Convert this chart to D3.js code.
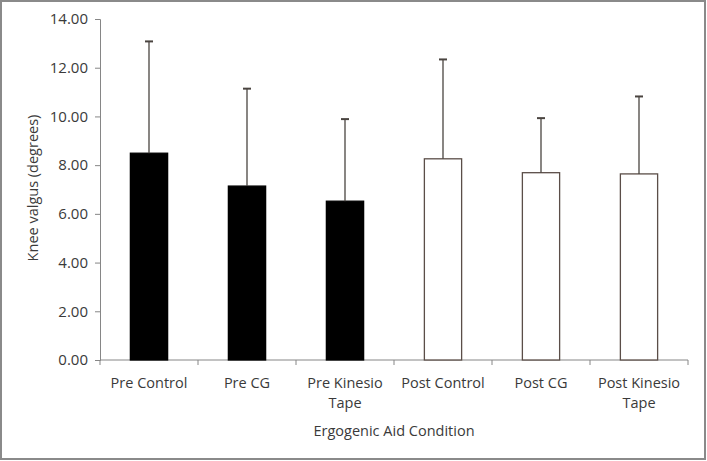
<!DOCTYPE html>
<html><head><meta charset="utf-8">
<script src="https://cdn.jsdelivr.net/npm/d3@7/dist/d3.min.js"></script>
<style>
body{margin:0;background:#fff;}
text{font-family:"Open Sans","Noto Sans",sans-serif;fill:#3a3a3a;}
</style></head>
<body><svg id="c" width="707" height="461"></svg>
<script>
const categories = [["Pre Control"],["Pre CG"],["Pre Kinesio","Tape"],["Post Control"],["Post CG"],["Post Kinesio","Tape"]];
const keys = ["Pre Control","Pre CG","Pre Kinesio Tape","Post Control","Post CG","Post Kinesio Tape"];
const means = [8.49, 7.14, 6.52, 8.26, 7.69, 7.64];
const sds = [4.59, 4.00, 3.37, 4.08, 2.24, 3.18];
const fills = ["#000","#000","#000","#fff","#fff","#fff"];
const yTicks = [0,2,4,6,8,10,12,14];

const svg = d3.select("#c");
svg.append("rect").attr("x",1).attr("y",1).attr("width",704).attr("height",458)
  .attr("fill","#fff").attr("stroke","#8a8a8a").attr("stroke-width",2);

const x = d3.scaleBand().domain(keys).range([100,688]).paddingInner(0.62).paddingOuter(0.31);
const y = d3.scaleLinear().domain([0,14]).range([360,19]);

// y axis
const ya = svg.append("g").attr("transform","translate(100,0)")
  .call(d3.axisLeft(y).tickValues(yTicks).tickFormat(d3.format(".2f")).tickSize(5).tickPadding(7));
ya.select(".domain").attr("stroke","#868686");
ya.selectAll(".tick line").attr("stroke","#868686");
ya.selectAll("text").style("font-size","15px").attr("fill","#3a3a3a");

// x axis
const band = (688-100)/keys.length;
const xa = svg.append("g").attr("transform","translate(0,360)");
xa.append("line").attr("x1",100).attr("x2",688).attr("stroke","#868686");
d3.range(keys.length+1).forEach(i=>{
  xa.append("line").attr("x1",100+i*band).attr("x2",100+i*band).attr("y1",0).attr("y2",5).attr("stroke","#868686");
});

// bars
svg.selectAll(".bar").data(keys).enter().append("rect")
  .attr("x",d=>x(d)).attr("width",x.bandwidth())
  .attr("y",(d,i)=>y(means[i])).attr("height",(d,i)=>y(0)-y(means[i]))
  .attr("fill",(d,i)=>fills[i]).attr("stroke",(d,i)=>i<3?"#000":"#5b4e48").attr("stroke-width",1.3);

// error bars
keys.forEach((k,i)=>{
  const cx = x(k)+x.bandwidth()/2;
  svg.append("line").attr("x1",cx).attr("x2",cx).attr("y1",y(means[i])).attr("y2",y(means[i]+sds[i]))
    .attr("stroke","#4a4440").attr("stroke-width",1.3);
  svg.append("line").attr("x1",cx-4).attr("x2",cx+4).attr("y1",y(means[i]+sds[i])).attr("y2",y(means[i]+sds[i]))
    .attr("stroke","#4a4440").attr("stroke-width",2);
});

// category labels
categories.forEach((lines,i)=>{
  const cx = 100+band*(i+0.5);
  const t = svg.append("text").attr("text-anchor","middle").attr("y",388).style("font-size","14.5px");
  lines.forEach((l,j)=>t.append("tspan").attr("x",cx).attr("dy",j?20:0).text(l));
});

svg.append("text").attr("x",394).attr("y",436).attr("text-anchor","middle").style("font-size","14.5px").text("Ergogenic Aid Condition");
svg.append("text").attr("transform","translate(38,188) rotate(-90)").attr("text-anchor","middle").style("font-size","14.5px").text("Knee valgus (degrees)");
</script></body></html>
